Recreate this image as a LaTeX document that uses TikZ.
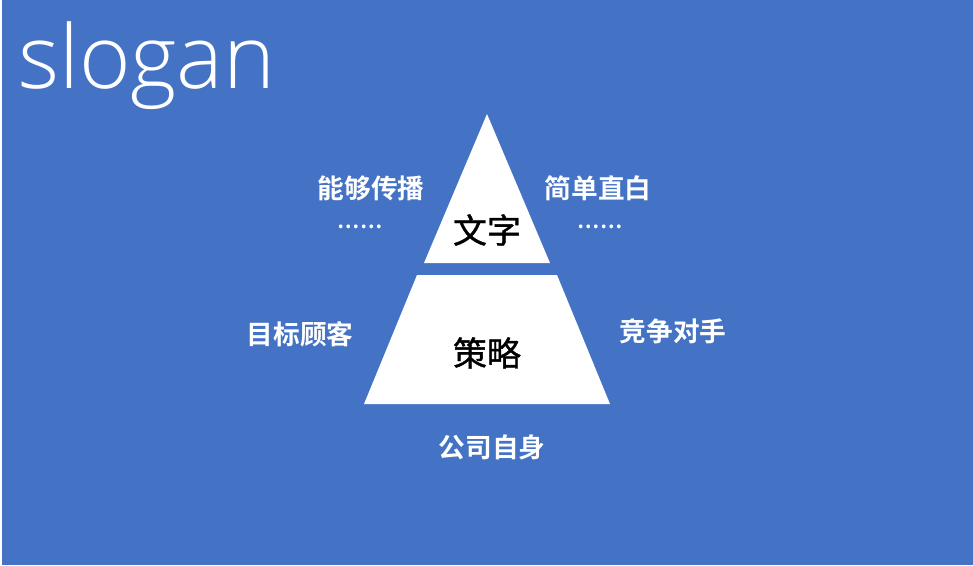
\documentclass[tikz,border=0pt]{standalone}
\usepackage{fontspec}
\setmainfont{Open Sans}
\newfontfamily\titlefont{Open Sans Light}
\newfontfamily\cjk[FakeBold=1.1]{Noto Sans CJK SC}
\newfontfamily\cjkbold{Noto Sans CJK SC Bold}
\usetikzlibrary{positioning,calc}
\definecolor{slideblue}{HTML}{4472C4}

\begin{document}
\begin{tikzpicture}[
        x=0.75pt, y=-0.75pt,
        slide/.style={fill=slideblue, draw=none},
        block/.style={fill=white, draw=none},
        title/.style={text=white, inner sep=0pt, font=\titlefont\fontsize{66}{66}\selectfont},
        side label/.style={text=white, inner sep=0pt, font=\cjkbold\fontsize{20}{20}\selectfont},
        dots label/.style={text=white, inner sep=0pt, font=\cjkbold\fontsize{15}{16}\selectfont},
        core label/.style={text=black, inner sep=0pt, font=\cjk\fontsize{25.5}{26}\selectfont}
    ]
    % background
    \useasboundingbox (0,0) rectangle (973,565);
    \fill[white] (0,0) rectangle (973,565);
    \fill[slide] (1.5,0) rectangle (973,565);
    \node[title, anchor=base west] (title) at (18,88) {slogan};
    % pyramid
    \fill[block] (487,114) -- (550,263) -- (424,263) -- cycle;
    \fill[block] (417,275) -- (557,275) -- (610,404) -- (364,404) -- cycle;
    \node[core label] (text) at (487,230) {文字};
    \node[core label] (strategy) at (487,353) {策略};
    % labels
    \node[side label] (spread) at (371,188) {能够传播};
    \node[dots label] (spreaddots) at (360,227) {……};
    \node[side label] (plain) at (598,188) {简单直白};
    \node[dots label] (plaindots) at (600,227) {……};
    \node[side label] (customer) at (300,334) {目标顾客};
    \node[side label] (rival) at (673,331) {竞争对手};
    \node[side label] (self) at (492,447) {公司自身};
\end{tikzpicture}
\end{document}
